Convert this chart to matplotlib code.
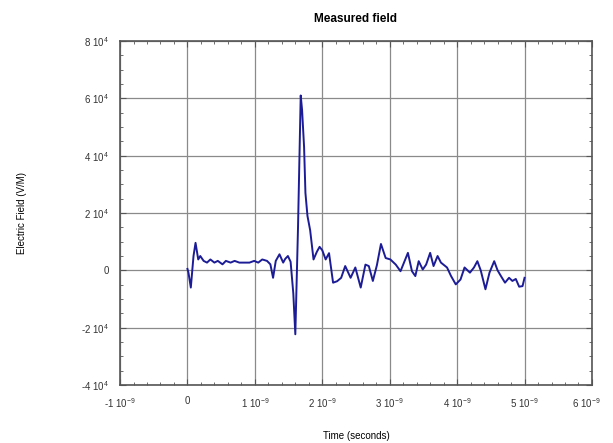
import numpy as np
import matplotlib.pyplot as plt
import matplotlib.transforms as mtransforms
from matplotlib.ticker import FuncFormatter, AutoMinorLocator

plt.rcParams["font.family"] = ["Liberation Sans", "DejaVu Sans"]
plt.rcParams["mathtext.fontset"] = "custom"
plt.rcParams["mathtext.rm"] = "Liberation Sans"
plt.rcParams["mathtext.it"] = "Liberation Sans:italic"
plt.rcParams["mathtext.bf"] = "Liberation Sans:bold"

# time in ns, field in units of 1e4 V/m
time_ns = [0.0, 0.015, 0.05, 0.09, 0.12, 0.16, 0.19, 0.24, 0.29, 0.34, 0.40, 0.45,
           0.52, 0.57, 0.64, 0.70, 0.77, 0.84, 0.92, 0.99, 1.05, 1.11, 1.18, 1.23,
           1.27, 1.31, 1.365, 1.42, 1.45, 1.49, 1.53, 1.57, 1.60, 1.64, 1.68, 1.70,
           1.73, 1.75, 1.78, 1.82, 1.87, 1.92, 1.96, 2.00, 2.05, 2.10, 2.16, 2.22,
           2.28, 2.34, 2.42, 2.49, 2.57, 2.64, 2.69, 2.75, 2.81, 2.87, 2.94, 3.01,
           3.09, 3.16, 3.21, 3.27, 3.33, 3.38, 3.43, 3.49, 3.54, 3.60, 3.65, 3.71,
           3.76, 3.85, 3.91, 3.98, 4.05, 4.11, 4.19, 4.25, 4.30, 4.35, 4.42, 4.48,
           4.55, 4.60, 4.65, 4.71, 4.77, 4.82, 4.87, 4.92, 4.97, 5.00]
field_e4 = [0.05, -0.08, -0.6, 0.5, 0.96, 0.38, 0.5, 0.33, 0.27, 0.38, 0.27, 0.33,
            0.21, 0.33, 0.27, 0.33, 0.27, 0.27, 0.27, 0.33, 0.27, 0.38, 0.33, 0.21,
            -0.26, 0.33, 0.56, 0.27, 0.4, 0.5, 0.3, -0.8, -2.23, 1.5, 6.1, 5.6,
            4.3, 2.7, 1.9, 1.4, 0.38, 0.65, 0.82, 0.7, 0.38, 0.6, -0.43, -0.38,
            -0.26, 0.15, -0.26, 0.1, -0.6, 0.2, 0.15, -0.37, 0.18, 0.92, 0.43, 0.38,
            0.2, -0.03, 0.26, 0.61, -0.03, -0.2, 0.32, 0.03, 0.2, 0.61, 0.15, 0.5,
            0.27, 0.1, -0.2, -0.49, -0.32, 0.1, -0.08, 0.1, 0.32, 0.0, -0.66, -0.08,
            0.32, 0.0, -0.2, -0.43, -0.26, -0.37, -0.3, -0.57, -0.55, -0.26]

x_ticks_ns = [-1, 0, 1, 2, 3, 4, 5, 6]
y_ticks_e4 = [-4, -2, 0, 2, 4, 6, 8]

t = np.array(time_ns) * 1e-9
e = np.array(field_e4) * 1e4


def sci_label(v, exp):
    m = v / 10.0 ** exp
    if abs(m) < 1e-6:
        return "0"
    return r"%d 10$^{%d}$" % (round(m), exp)


fig = plt.figure(figsize=(6.13, 4.43), dpi=100)
ax = fig.add_axes([0.1958, 0.1309, 0.7699, 0.7765])

ax.plot(t, e, color="#1c1c96", lw=1.4)

ax.set_xlim(-1e-9, 6e-9)
ax.set_ylim(-4e4, 8e4)
ax.set_xticks(np.array(x_ticks_ns) * 1e-9)
ax.set_yticks(np.array(y_ticks_e4) * 1e4)
ax.xaxis.set_minor_locator(AutoMinorLocator(5))
ax.yaxis.set_minor_locator(AutoMinorLocator(4))
ax.xaxis.set_major_formatter(FuncFormatter(lambda v, p: sci_label(v, -9)))
ax.yaxis.set_major_formatter(FuncFormatter(lambda v, p: sci_label(v, 4)))

ax.grid(True, which="major", color="#8a8a8a", lw=0.9)
ax.tick_params(which="both", direction="in", top=True, right=True,
               colors="#555555", labelcolor="#333333", labelsize=7)
ax.tick_params(which="major", length=4, pad=8)
ax.tick_params(which="minor", length=2.5)
for s in ax.spines.values():
    s.set_color("#555555")
    s.set_linewidth(1.2)

ax.set_title("Measured field", fontsize=8.5, fontweight="bold", pad=14)
ax.set_xlabel("Time (seconds)", fontsize=7)
ax.set_ylabel("Electric Field (V/M)", fontsize=7)
ax.xaxis.set_label_coords(0.5, -0.135)
ax.yaxis.set_label_coords(-0.197, 0.5)

# nudge the rightmost tick label so it stays inside the figure
fig.canvas.draw()
last = ax.xaxis.get_major_ticks()[-1].label1
last.set_transform(last.get_transform() +
                   mtransforms.ScaledTranslation(-4 / 72, 0, fig.dpi_scale_trans))

fig.savefig("out.png", dpi=100)
